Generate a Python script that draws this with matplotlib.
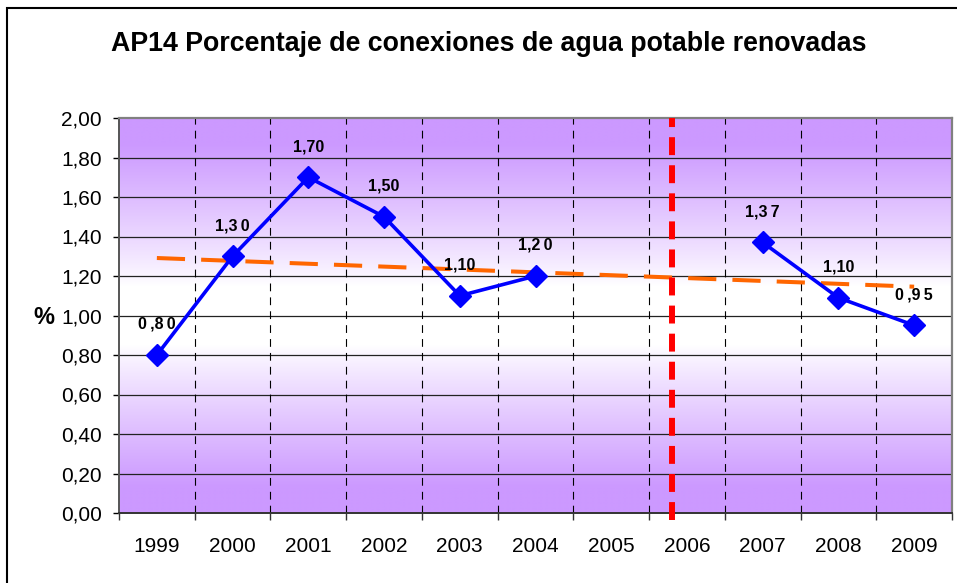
import numpy as np
import matplotlib
matplotlib.use("Agg")
import matplotlib.pyplot as plt
from matplotlib.patches import Rectangle

plt.rcParams['font.family'] = ['Liberation Sans', 'DejaVu Sans']

years = ["1999", "2000", "2001", "2002", "2003", "2004", "2005", "2006", "2007", "2008", "2009"]
# None = no dato para ese año
pct = [0.80, 1.30, 1.70, 1.50, 1.10, 1.20, None, None, 1.37, 1.09, 0.95]
# etiquetas tal como aparecen (con el espaciado irregular del original)
pct_labels = ["0\u2009,8\u20090", "1,3\u20090", "1,70", "1,50", "1,10", "1,2\u20090",
              "", "", "1,3\u20097", "1,10", "0\u2009,9\u20095"]
y_ticks = [0.0, 0.2, 0.4, 0.6, 0.8, 1.0, 1.2, 1.4, 1.6, 1.8, 2.0]
divider_x = 6.8  # separación roja entre 2005 y 2006

W, H = 957, 583
fig = plt.figure(figsize=(W / 100, H / 100), dpi=100)
ax = fig.add_axes([119 / W, 1 - 513 / H, (952 - 119) / W, (513 - 118) / H])

x = np.arange(len(years))
y = np.array([np.nan if v is None else v for v in pct], dtype=float)

# fondo degradado morado-blanco-morado
yy = np.linspace(2.0, 0.0, 400)
f = np.clip((np.abs(yy - 1.0) - 0.15) / 0.72, 0, 1) ** 0.9
purple = np.array([204, 153, 255]) / 255.0
white = np.array([1.0, 1.0, 1.0])
grad = white[None, :] * (1 - f[:, None]) + purple[None, :] * f[:, None]
img = np.repeat(grad[:, None, :], 2, axis=1)
ax.imshow(img, extent=(-0.5, len(years) - 0.5, 0, 2.0), aspect='auto', zorder=0,
          interpolation='bilinear')

ax.set_xlim(-0.5, len(years) - 0.5)
ax.set_ylim(0, 2.0)

# rejilla
for v in y_ticks[1:-1]:
    ax.axhline(v, color='#222222', lw=0.9, zorder=1)
for b in np.arange(0.5, len(years) - 1, 1.0):
    ln = ax.axvline(b, color='black', lw=0.8, zorder=1)
    ln.set_dashes((7, 5.5))

# tendencia lineal
mask = ~np.isnan(y)
coef = np.polyfit(x[mask], y[mask], 1)
trend = np.polyval(coef, x)
ax.plot(x, trend, color='#FF6600', lw=2.9, dashes=(7, 4), zorder=2)

# serie
ax.plot(x, y, color='#0000FF', lw=2.6, marker='D', markersize=11.5, zorder=4)

for xi, yi, lab in zip(x, y, pct_labels):
    if np.isnan(yi):
        continue
    ax.annotate(lab, (xi, yi), xytext=(0, 22), textcoords='offset points',
                ha='center', va='center', fontsize=11.5, fontweight='bold', zorder=5)

# línea divisoria roja
ax.plot([divider_x, divider_x], [-0.035, 2.0], color='#FF0000', lw=4.3,
        dashes=(3.0, 1.7), clip_on=False, zorder=6)

# ejes
ax.set_yticks(y_ticks)
ax.set_yticklabels([f"{v:.2f}".replace('.', ',') for v in y_ticks], fontsize=15)
ax.tick_params(axis='y', direction='out', length=4.3, width=1, pad=8, colors='black')
ax.set_xticks(np.arange(-0.5, len(years), 1.0))
ax.set_xticklabels([])
ax.set_xticks(x, minor=True)
ax.set_xticklabels(years, minor=True, fontsize=15)
ax.tick_params(axis='x', which='major', direction='out', length=5, width=1, colors='#333333')
ax.tick_params(axis='x', which='minor', length=0, pad=17)

for side in ['top', 'right']:
    ax.spines[side].set_color('#808080')
    ax.spines[side].set_linewidth(1.6)
ax.spines['left'].set_color('#555555')
ax.spines['left'].set_linewidth(1.4)
ax.spines['bottom'].set_color('#333333')
ax.spines['bottom'].set_linewidth(1.4)

fig.text(489 / W, 1 - 44 / H, "AP14 Porcentaje de conexiones de agua potable renovadas",
         ha='center', va='center', fontsize=19.3, fontweight='bold')
fig.text(44 / W, 1 - 317 / H, "%", ha='center', va='center', fontsize=17, fontweight='bold')

# marco exterior
fig.patches.append(Rectangle((7 / W, -0.05), 1.2, 1 - 8 / H + 0.05, transform=fig.transFigure,
                             fill=False, edgecolor='black', lw=1.5))

fig.savefig("out.png", dpi=100)
